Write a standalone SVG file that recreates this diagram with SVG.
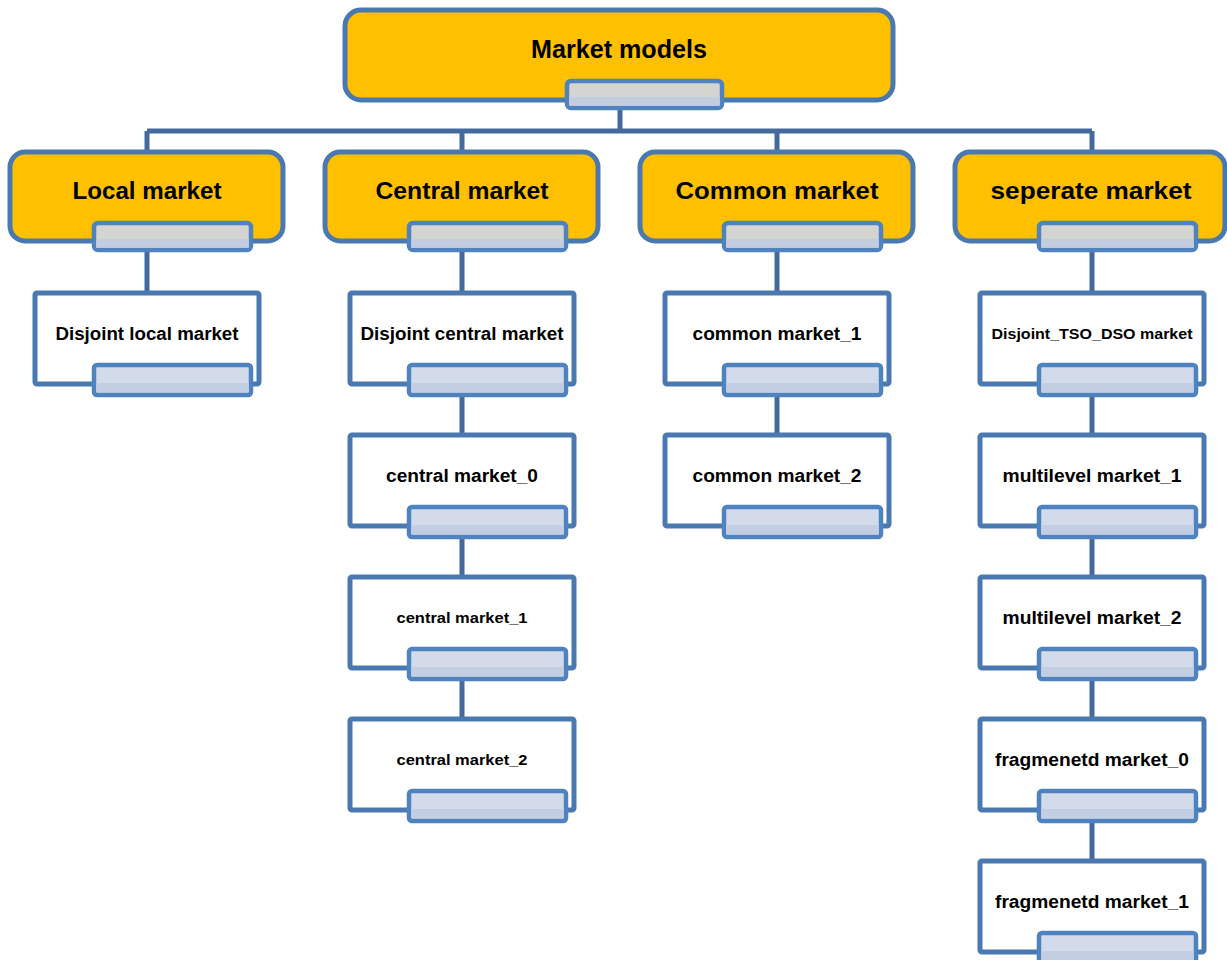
<svg xmlns="http://www.w3.org/2000/svg" width="1227" height="960" viewBox="0 0 1227 960">
<style>
.top{fill:#FFC000;stroke:#4A78B0;stroke-width:5}
.box{fill:#FFFFFF;stroke:#4A78B0;stroke-width:5}
.hg{fill:#D4D5D0;stroke:#4F83C0;stroke-width:4.5}
.hb{fill:#D3DBEA;stroke:#4F83C0;stroke-width:4.5}
.st{fill:#BFCBE0;opacity:0.8}
.conn{stroke:#44699C;stroke-width:5;fill:none}
text{font-family:"Liberation Sans",Arial,sans-serif;font-weight:bold;fill:#000;text-anchor:middle}
.t0{font-size:25px}
.t1{font-size:24px}
.t2{font-size:18px}
.t3{font-size:15px}
</style>
<g id="connectors">
<path class="conn" d="M620 106V131M147 131H1092M147 131V154M462 131V154M777 131V154M1092 131V154"/>
<path class="conn" d="M147 248V295"/>
<path class="conn" d="M462 248V295M462 392V437M462 534V579M462 676V721"/>
<path class="conn" d="M777 248V295M777 392V437"/>
<path class="conn" d="M1092 248V295M1092 392V437M1092 534V579M1092 676V721M1092 818V863"/>
</g>
<g id="n-market-models">
<rect class="top" x="345" y="10" width="548" height="90" rx="16"/>
<text class="t0" x="619" y="58" textLength="176" lengthAdjust="spacingAndGlyphs">Market models</text>
<rect class="hg" x="567" y="81" width="155" height="27" rx="4"/>
<rect class="st" x="569" y="97" width="151" height="9"/>
</g>
<g id="n-local">
<rect class="top" x="10" y="152" width="273" height="89" rx="15"/>
<text class="t1" x="147" y="199" textLength="149" lengthAdjust="spacingAndGlyphs">Local market</text>
<rect class="hg" x="94" y="223" width="157" height="27" rx="4"/>
<rect class="st" x="96" y="239" width="153" height="9"/>
</g>
<g id="n-central">
<rect class="top" x="325" y="152" width="273" height="89" rx="15"/>
<text class="t1" x="462" y="199" textLength="173" lengthAdjust="spacingAndGlyphs">Central market</text>
<rect class="hg" x="409" y="223" width="157" height="27" rx="4"/>
<rect class="st" x="411" y="239" width="153" height="9"/>
</g>
<g id="n-common">
<rect class="top" x="640" y="152" width="273" height="89" rx="15"/>
<text class="t1" x="777" y="199" textLength="203" lengthAdjust="spacingAndGlyphs">Common market</text>
<rect class="hg" x="724" y="223" width="157" height="27" rx="4"/>
<rect class="st" x="726" y="239" width="153" height="9"/>
</g>
<g id="n-separate">
<rect class="top" x="955" y="152" width="270" height="89" rx="15"/>
<text class="t1" x="1091" y="199" textLength="201" lengthAdjust="spacingAndGlyphs">seperate market</text>
<rect class="hg" x="1039" y="223" width="157" height="27" rx="4"/>
<rect class="st" x="1041" y="239" width="153" height="9"/>
</g>
<g id="n-disjoint-local">
<rect class="box" x="35" y="293" width="224" height="91" rx="2"/>
<text class="t2" x="147" y="340" textLength="183" lengthAdjust="spacingAndGlyphs">Disjoint local market</text>
<rect class="hb" x="94" y="365" width="157" height="30" rx="3"/>
<rect class="st" x="96" y="383" width="153" height="9"/>
</g>
<g id="n-disjoint-central">
<rect class="box" x="350" y="293" width="224" height="91" rx="2"/>
<text class="t2" x="462" y="340" textLength="203" lengthAdjust="spacingAndGlyphs">Disjoint central market</text>
<rect class="hb" x="409" y="365" width="157" height="30" rx="3"/>
<rect class="st" x="411" y="383" width="153" height="9"/>
</g>
<g id="n-central-0">
<rect class="box" x="350" y="435" width="224" height="91" rx="2"/>
<text class="t2" x="462" y="482" textLength="152" lengthAdjust="spacingAndGlyphs">central market_0</text>
<rect class="hb" x="409" y="507" width="157" height="30" rx="3"/>
<rect class="st" x="411" y="525" width="153" height="9"/>
</g>
<g id="n-central-1">
<rect class="box" x="350" y="577" width="224" height="91" rx="2"/>
<text class="t3" x="462" y="623" textLength="131" lengthAdjust="spacingAndGlyphs">central market_1</text>
<rect class="hb" x="409" y="649" width="157" height="30" rx="3"/>
<rect class="st" x="411" y="667" width="153" height="9"/>
</g>
<g id="n-central-2">
<rect class="box" x="350" y="719" width="224" height="91" rx="2"/>
<text class="t3" x="462" y="765" textLength="131" lengthAdjust="spacingAndGlyphs">central market_2</text>
<rect class="hb" x="409" y="791" width="157" height="30" rx="3"/>
<rect class="st" x="411" y="809" width="153" height="9"/>
</g>
<g id="n-common-1">
<rect class="box" x="665" y="293" width="224" height="91" rx="2"/>
<text class="t2" x="777" y="340" textLength="169" lengthAdjust="spacingAndGlyphs">common market_1</text>
<rect class="hb" x="724" y="365" width="157" height="30" rx="3"/>
<rect class="st" x="726" y="383" width="153" height="9"/>
</g>
<g id="n-common-2">
<rect class="box" x="665" y="435" width="224" height="91" rx="2"/>
<text class="t2" x="777" y="482" textLength="169" lengthAdjust="spacingAndGlyphs">common market_2</text>
<rect class="hb" x="724" y="507" width="157" height="30" rx="3"/>
<rect class="st" x="726" y="525" width="153" height="9"/>
</g>
<g id="n-disjoint-tso-dso">
<rect class="box" x="980" y="293" width="224" height="91" rx="2"/>
<text class="t3" x="1092" y="339" textLength="201" lengthAdjust="spacingAndGlyphs">Disjoint_TSO_DSO market</text>
<rect class="hb" x="1039" y="365" width="157" height="30" rx="3"/>
<rect class="st" x="1041" y="383" width="153" height="9"/>
</g>
<g id="n-multilevel-1">
<rect class="box" x="980" y="435" width="224" height="91" rx="2"/>
<text class="t2" x="1092" y="482" textLength="179" lengthAdjust="spacingAndGlyphs">multilevel market_1</text>
<rect class="hb" x="1039" y="507" width="157" height="30" rx="3"/>
<rect class="st" x="1041" y="525" width="153" height="9"/>
</g>
<g id="n-multilevel-2">
<rect class="box" x="980" y="577" width="224" height="91" rx="2"/>
<text class="t2" x="1092" y="624" textLength="179" lengthAdjust="spacingAndGlyphs">multilevel market_2</text>
<rect class="hb" x="1039" y="649" width="157" height="30" rx="3"/>
<rect class="st" x="1041" y="667" width="153" height="9"/>
</g>
<g id="n-fragmented-0">
<rect class="box" x="980" y="719" width="224" height="91" rx="2"/>
<text class="t2" x="1092" y="766" textLength="194" lengthAdjust="spacingAndGlyphs">fragmenetd market_0</text>
<rect class="hb" x="1039" y="791" width="157" height="30" rx="3"/>
<rect class="st" x="1041" y="809" width="153" height="9"/>
</g>
<g id="n-fragmented-1">
<rect class="box" x="980" y="861" width="224" height="91" rx="2"/>
<text class="t2" x="1092" y="908" textLength="194" lengthAdjust="spacingAndGlyphs">fragmenetd market_1</text>
<rect class="hb" x="1039" y="933" width="157" height="30" rx="3"/>
<rect class="st" x="1041" y="951" width="153" height="9"/>
</g>
</svg>
